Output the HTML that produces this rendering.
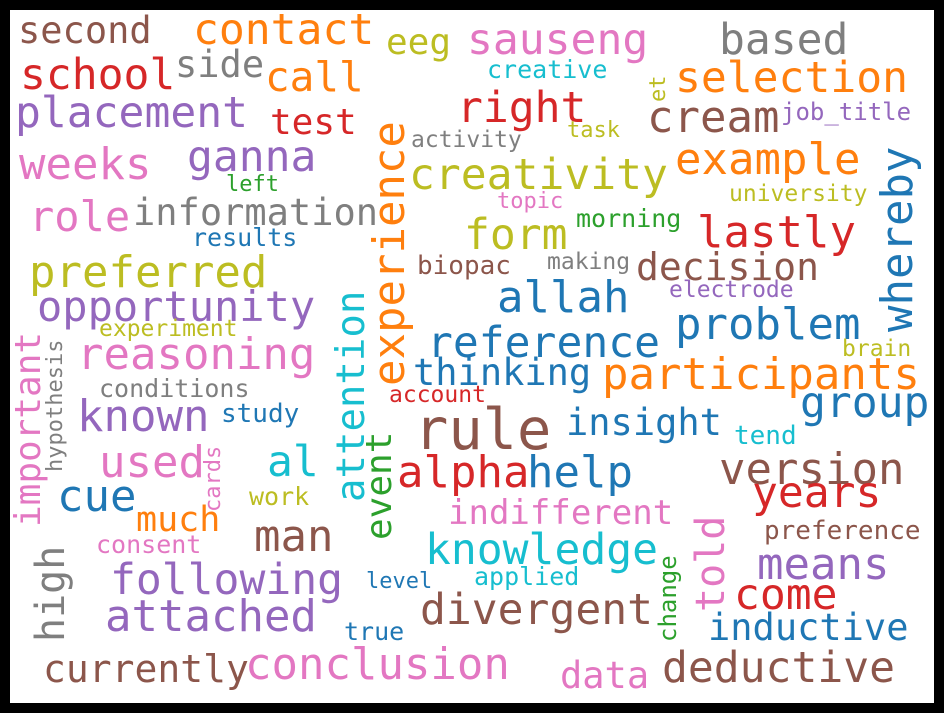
<!DOCTYPE html>
<html><head><meta charset="utf-8"><style>
html,body{margin:0;padding:0;background:#000;width:944px;height:713px;overflow:hidden}
#c{position:absolute;left:10px;top:10px;width:924px;height:693px;background:#fff}
.w{position:absolute;font-family:"DejaVu Sans Mono","Liberation Mono",monospace;line-height:1;white-space:nowrap}
.v{transform:rotate(-90deg);transform-origin:0 0}
.b{color:#1f77b4}.o{color:#ff7f0e}.g{color:#2ca02c}.r{color:#d62728}.p{color:#9467bd}
.n{color:#8c564b}.k{color:#e377c2}.y{color:#7f7f7f}.l{color:#bcbd22}.c{color:#17becf}
</style></head><body><div id="c"></div>
<div class="w n" style="left:18px;top:12px;font-size:37px">second</div>
<div class="w o" style="left:193px;top:9px;font-size:43px">contact</div>
<div class="w l" style="left:386px;top:25px;font-size:36px">eeg</div>
<div class="w k" style="left:467px;top:19px;font-size:43px">sauseng</div>
<div class="w y" style="left:719px;top:19px;font-size:43px">based</div>
<div class="w r" style="left:20px;top:54px;font-size:43px">school</div>
<div class="w y" style="left:175px;top:46px;font-size:37px">side</div>
<div class="w o" style="left:265px;top:57px;font-size:41px">call</div>
<div class="w c" style="left:487px;top:57px;font-size:25px">creative</div>
<div class="w o" style="left:675px;top:57px;font-size:43px">selection</div>
<div class="w p" style="left:15px;top:92px;font-size:43px">placement</div>
<div class="w r" style="left:270px;top:105px;font-size:36px">test</div>
<div class="w r" style="left:457px;top:87px;font-size:43px">right</div>
<div class="w n" style="left:647px;top:96px;font-size:44px">cream</div>
<div class="w p" style="left:781px;top:100px;font-size:24px">job_title</div>
<div class="w y" style="left:411px;top:129px;font-size:23px">activity</div>
<div class="w l" style="left:567px;top:120px;font-size:22px">task</div>
<div class="w p" style="left:187px;top:136px;font-size:43px">ganna</div>
<div class="w k" style="left:19px;top:143px;font-size:44px">weeks</div>
<div class="w l" style="left:409px;top:154px;font-size:43px">creativity</div>
<div class="w o" style="left:675px;top:138px;font-size:44px">example</div>
<div class="w g" style="left:226px;top:174px;font-size:22px">left</div>
<div class="w l" style="left:729px;top:183px;font-size:23px">university</div>
<div class="w k" style="left:29px;top:196px;font-size:42px">role</div>
<div class="w y" style="left:133px;top:194px;font-size:37px">information</div>
<div class="w k" style="left:497px;top:191px;font-size:22px">topic</div>
<div class="w g" style="left:576px;top:206px;font-size:25px">morning</div>
<div class="w l" style="left:464px;top:214px;font-size:43px">form</div>
<div class="w r" style="left:697px;top:211px;font-size:44px">lastly</div>
<div class="w b" style="left:192px;top:225px;font-size:25px">results</div>
<div class="w l" style="left:29px;top:251px;font-size:44px">preferred</div>
<div class="w n" style="left:417px;top:253px;font-size:26px">biopac</div>
<div class="w y" style="left:547px;top:251px;font-size:23px">making</div>
<div class="w n" style="left:636px;top:248px;font-size:38px">decision</div>
<div class="w b" style="left:497px;top:276px;font-size:44px">allah</div>
<div class="w p" style="left:669px;top:279px;font-size:23px">electrode</div>
<div class="w p" style="left:37px;top:286px;font-size:42px">opportunity</div>
<div class="w l" style="left:99px;top:318px;font-size:23px">experiment</div>
<div class="w b" style="left:675px;top:303px;font-size:44px">problem</div>
<div class="w b" style="left:427px;top:322px;font-size:43px">reference</div>
<div class="w k" style="left:77px;top:333px;font-size:44px">reasoning</div>
<div class="w l" style="left:842px;top:338px;font-size:23px">brain</div>
<div class="w b" style="left:413px;top:354px;font-size:37px">thinking</div>
<div class="w o" style="left:602px;top:353px;font-size:44px">participants</div>
<div class="w y" style="left:99px;top:376px;font-size:25px">conditions</div>
<div class="w r" style="left:389px;top:384px;font-size:23px">account</div>
<div class="w p" style="left:77px;top:395px;font-size:44px">known</div>
<div class="w b" style="left:221px;top:401px;font-size:26px">study</div>
<div class="w b" style="left:800px;top:382px;font-size:43px">group</div>
<div class="w n" style="left:414px;top:402px;font-size:57px">rule</div>
<div class="w b" style="left:566px;top:404px;font-size:37px">insight</div>
<div class="w c" style="left:734px;top:423px;font-size:26px">tend</div>
<div class="w c" style="left:267px;top:441px;font-size:43px">al</div>
<div class="w k" style="left:99px;top:441px;font-size:44px">used</div>
<div class="w r" style="left:397px;top:451px;font-size:44px">alpha</div>
<div class="w b" style="left:527px;top:451px;font-size:44px">help</div>
<div class="w n" style="left:719px;top:448px;font-size:44px">version</div>
<div class="w b" style="left:57px;top:475px;font-size:44px">cue</div>
<div class="w l" style="left:249px;top:484px;font-size:25px">work</div>
<div class="w r" style="left:752px;top:472px;font-size:43px">years</div>
<div class="w o" style="left:136px;top:503px;font-size:35px">much</div>
<div class="w k" style="left:448px;top:496px;font-size:34px">indifferent</div>
<div class="w n" style="left:254px;top:515px;font-size:44px">man</div>
<div class="w k" style="left:96px;top:532px;font-size:25px">consent</div>
<div class="w c" style="left:425px;top:529px;font-size:43px">knowledge</div>
<div class="w n" style="left:764px;top:518px;font-size:26px">preference</div>
<div class="w p" style="left:110px;top:559px;font-size:43px">following</div>
<div class="w p" style="left:757px;top:543px;font-size:44px">means</div>
<div class="w b" style="left:366px;top:571px;font-size:22px">level</div>
<div class="w c" style="left:474px;top:564px;font-size:25px">applied</div>
<div class="w p" style="left:105px;top:595px;font-size:44px">attached</div>
<div class="w n" style="left:420px;top:589px;font-size:43px">divergent</div>
<div class="w r" style="left:734px;top:574px;font-size:43px">come</div>
<div class="w b" style="left:708px;top:609px;font-size:37px">inductive</div>
<div class="w b" style="left:344px;top:619px;font-size:25px">true</div>
<div class="w n" style="left:43px;top:650px;font-size:38px">currently</div>
<div class="w k" style="left:245px;top:643px;font-size:44px">conclusion</div>
<div class="w k" style="left:560px;top:657px;font-size:37px">data</div>
<div class="w n" style="left:662px;top:647px;font-size:43px">deductive</div>
<div class="w v o" style="left:368px;top:386px;font-size:44px">experience</div>
<div class="w v c" style="left:332px;top:502px;font-size:39px">attention</div>
<div class="w v b" style="left:876px;top:332px;font-size:44px">whereby</div>
<div class="w v k" style="left:11px;top:527px;font-size:36px">important</div>
<div class="w v y" style="left:45px;top:472px;font-size:22px">hypothesis</div>
<div class="w v g" style="left:362px;top:540px;font-size:36px">event</div>
<div class="w v k" style="left:203px;top:512px;font-size:22px">cards</div>
<div class="w v k" style="left:691px;top:612px;font-size:40px">told</div>
<div class="w v y" style="left:31px;top:642px;font-size:40px">high</div>
<div class="w v g" style="left:656px;top:642px;font-size:24px">change</div>
<div class="w v l" style="left:648px;top:102px;font-size:22px">et</div>
</body></html>
